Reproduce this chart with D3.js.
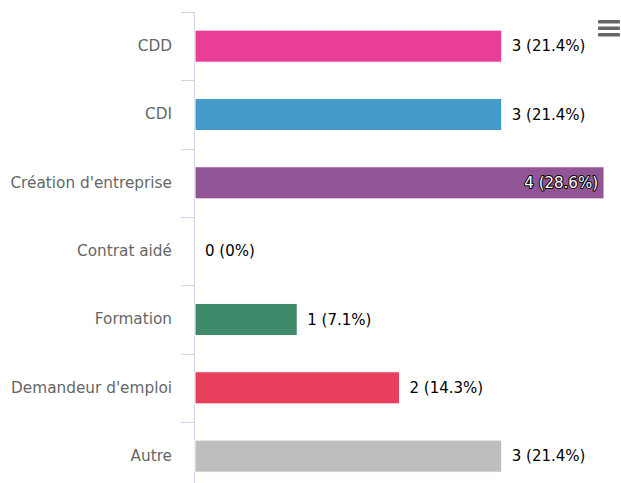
<!DOCTYPE html>
<html>
<head>
<meta charset="utf-8">
<script src="https://cdnjs.cloudflare.com/ajax/libs/d3/7.8.5/d3.min.js"></script>
<style>
body{margin:0;background:#fff;}
svg{display:block;font-family:"DejaVu Sans",sans-serif;}
</style>
</head>
<body>
<script>
var categories=["CDD","CDI","Création d'entreprise","Contrat aidé","Formation","Demandeur d'emploi","Autre"]
var values=[3,3,4,0,1,2,3]
var percents=["21.4%","21.4%","28.6%","0%","7.1%","14.3%","21.4%"]
var colors=["#ea3d96","#449ac9","#915494","#7cb5ec","#3e8a6b","#e8405c","#bebebe"]

var width=621,height=483
var margin={top:12,left:194,right:17}
var rowH=68.33

var svg=d3.select("body").append("svg")
  .attr("width",width)
  .attr("height",height)

var xScale=d3.scaleLinear()
  .domain([0,4])
  .range([margin.left+1,width-margin.right])

var yScale=d3.scaleBand()
  .domain(categories)
  .range([margin.top,margin.top+rowH*categories.length])
  .paddingInner(0.53)
  .paddingOuter(0.265)

// category axis
var yAxis=d3.axisLeft(yScale).tickSize(0).tickPadding(22)
var g=svg.append("g").attr("transform","translate("+margin.left+",0)").call(yAxis)
g.select(".domain").remove()
g.selectAll("text").attr("fill","#666").style("font-size","15.3px").style("font-family","DejaVu Sans, sans-serif")

svg.append("line")
  .attr("x1",margin.left+0.5).attr("x2",margin.left+0.5)
  .attr("y1",margin.top).attr("y2",height)
  .attr("stroke","#ccd6eb")

categories.forEach(function(c,i){
  var y=Math.round(margin.top+rowH*i)+0.5
  svg.append("line")
    .attr("x1",margin.left-13).attr("x2",margin.left)
    .attr("y1",y).attr("y2",y)
    .attr("stroke","#ccd6eb")
})

svg.selectAll("rect.bar").data(values).enter().append("rect")
  .attr("class","bar")
  .attr("x",xScale(0))
  .attr("y",function(d,i){return yScale(categories[i])})
  .attr("width",function(d){return xScale(d)-xScale(0)})
  .attr("height",yScale.bandwidth())
  .attr("fill",function(d,i){return colors[i]})
  .attr("stroke","#fff")
  .attr("stroke-width",1)

svg.selectAll("text.lbl").data(values).enter().append("text")
  .attr("class","lbl")
  .attr("x",function(d){return d==4?xScale(d)-6:xScale(d)+10})
  .attr("y",function(d,i){return yScale(categories[i])+yScale.bandwidth()/2})
  .attr("dy","0.35em")
  .attr("text-anchor",function(d){return d==4?"end":"start"})
  .style("font-size","15px")
  .attr("fill",function(d){return d==4?"#fff":"#000"})
  .attr("stroke",function(d){return d==4?"#000":"none"})
  .attr("stroke-width",2)
  .attr("paint-order","stroke")
  .attr("stroke-linejoin","round")
  .text(function(d,i){return d+" ("+percents[i]+")"})

// menu icon
;[0,1,2].forEach(function(i){
  svg.append("rect").attr("x",598).attr("y",20+i*6.5).attr("width",22).attr("height",3.5)
    .attr("rx",1).attr("fill","#666")
})
</script>
</body>
</html>
